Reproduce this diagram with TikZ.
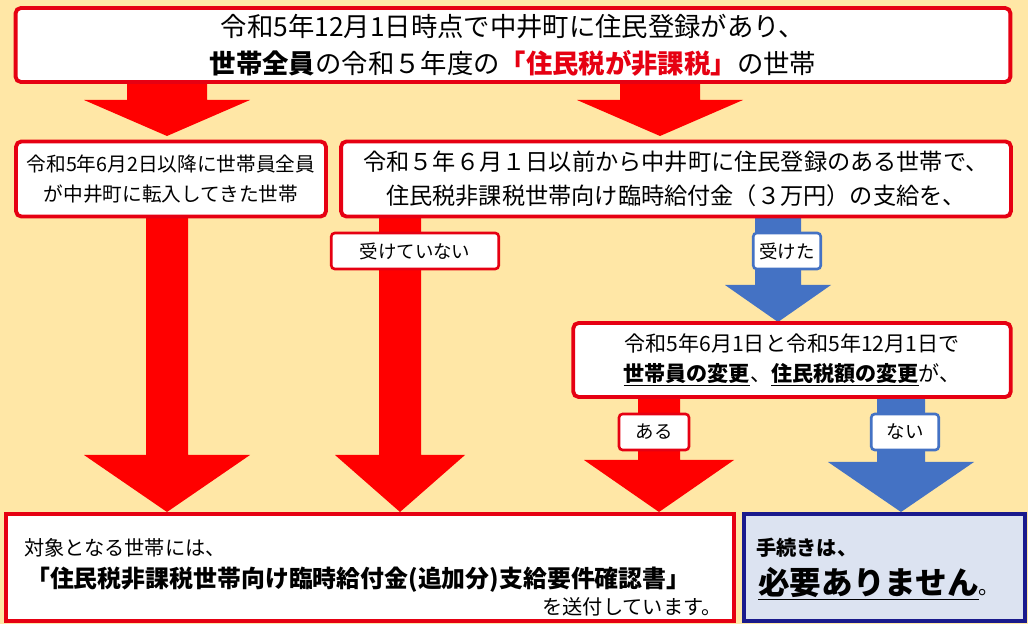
\documentclass[tikz,border=0pt]{standalone}
\usepackage{fontspec}
\setmainfont{Noto Sans CJK JP}
\usepackage{tikz}
\definecolor{bgbeige}{HTML}{FFE7A6}
\definecolor{boxred}{HTML}{E60012}
\definecolor{arrred}{HTML}{FF0000}
\definecolor{arrblue}{HTML}{4472C4}
\definecolor{navy}{HTML}{1A1A8C}
\definecolor{paleblue}{HTML}{DCE3F1}
% block arrow: x-center, top, head start, tip, half shaft, half head, colour
\newcommand{\blockarrow}[7]{%
  \fill[#7] (#1-#5,#2) -- (#1+#5,#2) -- (#1+#5,#3) -- (#1+#6,#3) -- (#1,#4)
    -- (#1-#6,#3) -- (#1-#5,#3) -- cycle;}
\tikzset{
  redbox/.style={draw=boxred, line width=2.2pt, fill=white, rounded corners=3pt, inner sep=0pt},
  tagred/.style={draw=boxred, line width=1.5pt, fill=white, rounded corners=2pt,
    minimum height=0.72cm, font=\fontsize{10.5}{12}\selectfont},
  tagblue/.style={draw=arrblue, line width=1.5pt, fill=white, rounded corners=2pt,
    minimum height=0.72cm, font=\fontsize{10.5}{12}\selectfont},
}
\begin{document}
\begin{tikzpicture}[x=0.02cm, y=-0.02cm]
  \fill[bgbeige] (0,0) rectangle (1028,624);
  % arrows
  \blockarrow{167}{80}{100}{136}{40}{83}{arrred}
  \blockarrow{660}{80}{100}{136}{40}{83}{arrred}
  \blockarrow{167}{218}{455}{512}{21}{83}{arrred}
  \blockarrow{400}{218}{455}{512}{21}{65}{arrred}
  \blockarrow{778}{218}{285}{322}{23}{53}{arrblue}
  \blockarrow{659}{396}{460}{512}{21}{75}{arrred}
  \blockarrow{901}{396}{462}{512}{24}{73}{arrblue}
  % boxes
  \node[redbox, minimum width=19.9cm, minimum height=1.48cm, align=center,
    font=\fontsize{15}{21}\selectfont] (top) at (513,45)
    {令和5年12月1日時点で中井町に住民登録があり、\\
     \textbf{世帯全員}の令和５年度の\textcolor{boxred}{\textbf{「住民税が非課税」}}の世帯};
  \node[redbox, minimum width=6.2cm, minimum height=1.5cm, align=center,
    font=\fontsize{11.2}{17}\selectfont] (newin) at (171,179)
    {令和5年6月2日以降に世帯員全員\\が中井町に転入してきた世帯};
  \node[redbox, minimum width=13.4cm, minimum height=1.5cm, align=center,
    font=\fontsize{13.2}{19}\selectfont] (before) at (676,179)
    {令和５年６月１日以前から中井町に住民登録のある世帯で、\\
     住民税非課税世帯向け臨時給付金（３万円）の支給を、};
  \node[redbox, minimum width=8.75cm, minimum height=1.48cm, align=center,
    font=\fontsize{12}{17}\selectfont] (change) at (792,360)
    {令和5年6月1日と令和5年12月1日で\\
     \textbf{\underline{世帯員の変更}}、\textbf{\underline{住民税額の変更}}が、};
  \node[tagred, minimum width=3.35cm] (notrecv) at (415,251) {受けていない};
  \node[tagblue, minimum width=1.35cm] (recv) at (787,251) {受けた};
  \node[tagred, minimum width=1.4cm] (yes) at (654,432) {ある};
  \node[tagblue, minimum width=1.35cm] (no) at (905,432) {ない};
  % bottom boxes
  \draw[boxred, line width=2.2pt, fill=white] (6,514) rectangle (734,621);
  \node[anchor=west, font=\fontsize{11.5}{13}\selectfont] (target) at (18,548) {対象となる世帯には、};
  \node[anchor=west, font=\bfseries\fontsize{13.6}{16}\selectfont] (doc) at (20,580)
    {「住民税非課税世帯向け臨時給付金(追加分)支給要件確認書」};
  \node[anchor=east, font=\fontsize{11.5}{13}\selectfont] (sent) at (728,607) {を送付しています。};
  \draw[navy, line width=2.2pt, fill=paleblue] (744,514) rectangle (1025,621);
  \node[anchor=west, font=\bfseries\fontsize{11.5}{13}\selectfont] (proc) at (750,548) {手続きは、};
  \node[anchor=west, font=\fontsize{18}{20}\selectfont] (needless) at (752,584)
    {\textbf{\underline{必要ありません}}\fontsize{12}{14}\selectfont 。};
\end{tikzpicture}
\end{document}
